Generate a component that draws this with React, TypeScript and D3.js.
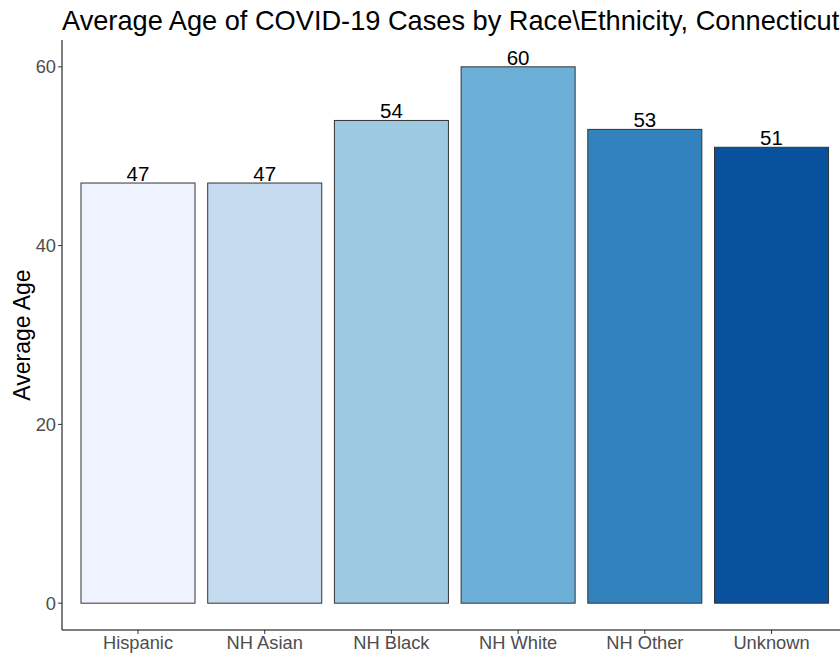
import React from "react";
import * as d3 from "d3";

const categories = ["Hispanic", "NH Asian", "NH Black", "NH White", "NH Other", "Unknown"];
const values = [47, 47, 54, 60, 53, 51];
const colors = ["#EFF3FF", "#C6DBEF", "#9ECAE1", "#6BAED6", "#3182BD", "#08519C"];
const yTicks = [0, 20, 40, 60];

const W = 840, H = 654;
const left = 62, top = 40, bottom = 630;
const step = 126.7;

export default function App() {
  const x = d3
    .scaleBand<string>()
    .domain(categories)
    .range([left + 0.1 * step, left + 6.1 * step])
    .paddingInner(0.1)
    .paddingOuter(0.05);
  const xc = (c: string) => (x(c) as number) + x.bandwidth() / 2;
  const y = d3.scaleLinear().domain([-3, 63]).range([bottom, top]);
  const bw = x.bandwidth();
  const font = "Liberation Sans, Arial, sans-serif";
  return (
    <svg width={W} height={H} style={{ position: "absolute", left: 0, top: 0 }} fontFamily={font}>
      <rect width={W} height={H} fill="#fff" />
      <text x={left} y={30} fontSize={27.2} fill="#000">Average Age of COVID-19 Cases by Race\Ethnicity, Connecticut</text>
      {categories.map((c, i) => (
        <g key={c}>
          <rect x={xc(c) - bw / 2} y={y(values[i])} width={bw} height={y(0) - y(values[i])} fill={colors[i]} stroke="#333" strokeWidth={1} />
          <text x={xc(c)} y={y(values[i]) - 2} textAnchor="middle" fontSize={20.5} fill="#000">{values[i]}</text>
          <line x1={xc(c)} x2={xc(c)} y1={bottom} y2={bottom + 4} stroke="#333" />
          <text x={xc(c)} y={bottom + 19} textAnchor="middle" fontSize={18.3} fill="#4D4D4D">{c}</text>
        </g>
      ))}
      <line x1={left} x2={W} y1={bottom} y2={bottom} stroke="#000" strokeWidth={1} />
      <line x1={left} x2={left} y1={top} y2={bottom} stroke="#000" strokeWidth={1} />
      {yTicks.map((t) => (
        <g key={t}>
          <line x1={left - 4} x2={left} y1={y(t)} y2={y(t)} stroke="#333" />
          <text x={left - 6} y={y(t) + 6.5} textAnchor="end" fontSize={18.3} fill="#4D4D4D">{t}</text>
        </g>
      ))}
      <text transform={`translate(30,${(top + bottom) / 2}) rotate(-90)`} textAnchor="middle" fontSize={23} fill="#000">Average Age</text>
    </svg>
  );
}
